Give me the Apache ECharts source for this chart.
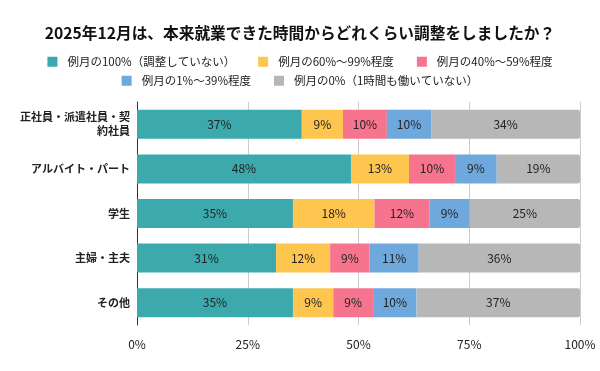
<!DOCTYPE html>
<html><head><meta charset="utf-8">
<script src="https://cdn.jsdelivr.net/npm/echarts@6/dist/echarts.min.js"></script>
<style>html,body{margin:0;padding:0;background:#fff}#c{width:600px;height:371px}</style>
</head><body><div id="c"></div>
<script>
const categories = ['正社員・派遣社員・契\n約社員', 'アルバイト・パート', '学生', '主婦・主夫', 'その他'];
const seriesNames = ['例月の100%（調整していない）', '例月の60%～99%程度', '例月の40%～59%程度', '例月の1%～39%程度', '例月の0%（1時間も働いていない）'];
const s100 = [37.2, 48.3, 35.2, 31.4, 35.2];
const s60 = [9.3, 13.1, 18.4, 12.2, 9.1];
const s40 = [9.9, 10.4, 12.4, 8.9, 9.0];
const s1 = [10.0, 9.4, 9.1, 11.1, 9.8];
const s0 = [33.6, 18.8, 24.9, 36.4, 36.9];
const xTicks = [0, 25, 50, 75, 100];
const colors = ['#3CAAAD', '#FEC54F', '#F7748F', '#6FA8DC', '#B7B7B7'];
const values = [s100, s60, s40, s1, s0];
const font = '"Noto Sans CJK JP", "Noto Sans", sans-serif';

const legendBase = {
  left: 'center', itemWidth: 10, itemHeight: 10, itemGap: 23, icon: 'rect',
  textStyle: {fontSize: 11.5, color: '#222', fontFamily: font, padding: [0, 0, 0, 5]}
};

const chart = echarts.init(document.getElementById('c'), null, {renderer: 'canvas'});
chart.setOption({
  animation: false,
  color: colors,
  textStyle: {fontFamily: font},
  title: {
    text: '2025年12月は、本来就業できた時間からどれくらい調整をしましたか？',
    left: 'center', top: 20,
    textStyle: {fontSize: 15.7, fontWeight: 'bold', color: '#111', fontFamily: font}
  },
  legend: [
    Object.assign({}, legendBase, {data: seriesNames.slice(0, 3), top: 51}),
    Object.assign({}, legendBase, {data: seriesNames.slice(3), top: 70})
  ],
  grid: {left: 137, right: 20, top: 102, bottom: 46, containLabel: false},
  xAxis: {
    type: 'value', min: 0, max: 100, interval: 25,
    axisLabel: {formatter: '{value}%', fontSize: 12, color: '#222', margin: 13, fontFamily: font},
    splitLine: {lineStyle: {color: '#cccccc', width: 1}},
    axisLine: {show: false}, axisTick: {show: false}
  },
  yAxis: {
    type: 'category', data: categories, inverse: true,
    axisLine: {show: true, lineStyle: {color: '#333', width: 1}},
    axisTick: {show: false},
    axisLabel: {fontSize: 11, fontWeight: 'bold', color: '#222', margin: 7, lineHeight: 14, fontFamily: font}
  },
  series: seriesNames.map((n, i) => ({
    name: n, type: 'bar', stack: 'total', barWidth: 29,
    data: values[i],
    itemStyle: {color: colors[i], borderRadius: i === 4 ? [0, 2, 2, 0] : 0},
    label: {
      show: true, position: 'inside', color: '#222', fontSize: 12, fontFamily: font,
      formatter: p => Math.round(p.value) + '%'
    }
  }))
});
</script></body></html>
